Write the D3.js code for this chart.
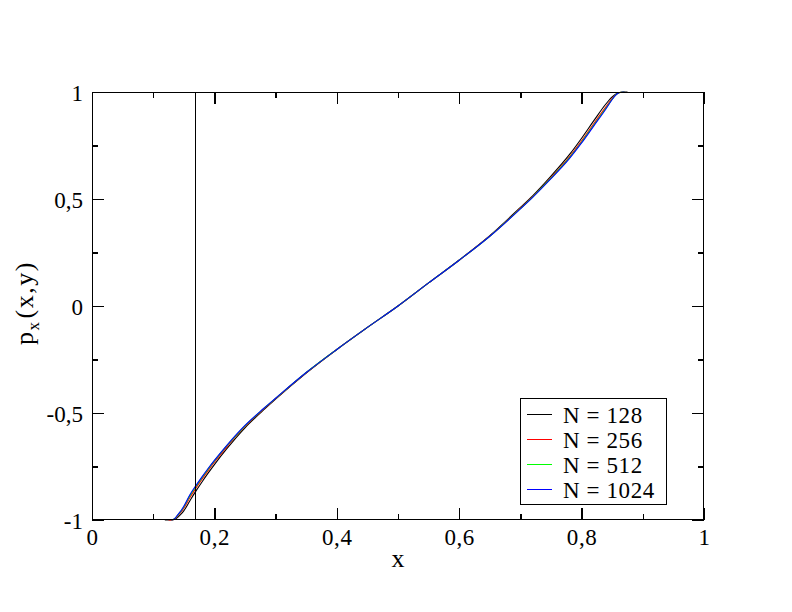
<!DOCTYPE html>
<html>
<head>
<meta charset="utf-8">
<script src="https://cdn.jsdelivr.net/npm/d3@7"></script>
<style>
html,body{margin:0;padding:0;background:#fff;}
svg{display:block;}
text{font-family:"Liberation Serif","DejaVu Serif",serif;fill:#000;}
</style>
</head>
<body>
<svg id="chart" width="792" height="612"></svg>
<script>
// ---- data ----
const xValues = [0.119, 0.125, 0.13, 0.135, 0.14, 0.145, 0.15, 0.16, 0.17, 0.18, 0.19, 0.20, 0.22, 0.25, 0.28, 0.30, 0.35, 0.40, 0.45, 0.50, 0.55, 0.60, 0.65, 0.70, 0.72, 0.75, 0.78, 0.80, 0.82, 0.84, 0.85, 0.855, 0.86, 0.865, 0.87, 0.875];
const seriesNames = ["N = 128", "N = 256", "N = 512", "N = 1024"];
const seriesColors = ["#000000", "#ff0000", "#00ff00", "#0000ff"];
const y128  = [-1.0, -1.0, -1.0, -0.997, -0.988, -0.974, -0.957, -0.910, -0.864, -0.821, -0.780, -0.741, -0.668, -0.569, -0.487, -0.435, -0.313, -0.203, -0.100, 0.0, 0.108, 0.215, 0.329, 0.461, 0.515, 0.607, 0.707, 0.784, 0.866, 0.945, 0.977, 0.989, 0.996, 0.999, 1.0, 1.0];
const y256  = [null, -1.0, -1.0, -0.995, -0.981, -0.965, -0.945, -0.895, -0.850, -0.808, -0.768, -0.730, -0.659, -0.563, -0.483, -0.433, -0.312, -0.203, -0.100, 0.0, 0.108, 0.214, 0.327, 0.457, 0.511, 0.600, 0.697, 0.772, 0.853, 0.932, 0.970, 0.985, 0.995, 0.999, 1.0, null];
const y512  = [null, null, -1.0, -0.994, -0.978, -0.960, -0.939, -0.886, -0.842, -0.801, -0.761, -0.724, -0.654, -0.560, -0.481, -0.432, -0.311, -0.203, -0.100, 0.0, 0.108, 0.214, 0.326, 0.455, 0.509, 0.597, 0.692, 0.765, 0.846, 0.925, 0.966, 0.984, 0.995, 0.999, 1.0, null];
const y1024 = [null, null, -1.0, -0.994, -0.976, -0.958, -0.936, -0.882, -0.838, -0.797, -0.758, -0.721, -0.652, -0.558, -0.480, -0.431, -0.311, -0.203, -0.100, 0.0, 0.108, 0.214, 0.326, 0.454, 0.508, 0.595, 0.689, 0.762, 0.842, 0.922, 0.965, 0.983, 0.995, 0.999, 1.0, null];
const seriesValues = [y128, y256, y512, y1024];
const markerX = 0.169;
const xTicks = [0, 0.2, 0.4, 0.6, 0.8, 1];
const xTickLabels = ["0", "0,2", "0,4", "0,6", "0,8", "1"];
const xMinorTicks = [0.1, 0.3, 0.5, 0.7, 0.9];
const yTicks = [-1, -0.5, 0, 0.5, 1];
const yTickLabels = ["-1", "-0,5", "0", "0,5", "1"];
const yMinorTicks = [-0.75, -0.25, 0.25, 0.75];

// ---- layout ----
const L = 92, R = 704, T = 92, B = 520;
const svg = d3.select("#chart");
const x = d3.scaleLinear().domain([0, 1]).range([L, R]);
const y = d3.scaleLinear().domain([-1, 1]).range([B, T]);

const fs = 23;

// curves
const line = d3.line()
  .defined(d => d[1] !== null)
  .x(d => x(d[0])).y(d => y(d[1]))
  .curve(d3.curveMonotoneX);
const plot = svg.append("g");
seriesValues.forEach((vals, i) => {
  plot.append("path")
    .datum(xValues.map((xv, j) => [xv, vals[j]]))
    .attr("d", line)
    .attr("fill", "none")
    .attr("stroke", seriesColors[i])
    .attr("stroke-width", 1.1);
});

// vertical marker line
svg.append("line")
  .attr("x1", Math.round(x(markerX)) + 0.5).attr("x2", Math.round(x(markerX)) + 0.5)
  .attr("y1", T).attr("y2", B)
  .attr("stroke", "#000").attr("stroke-width", 1).attr("shape-rendering", "crispEdges");

// frame
svg.append("rect").attr("x", L + 0.5).attr("y", T + 0.5).attr("width", R - L - 1).attr("height", B - T - 1)
  .attr("fill", "none").attr("stroke", "#000").attr("stroke-width", 1.3).attr("shape-rendering", "crispEdges");

// axes with inward ticks on all four sides
function ax(axisGen, tr) {
  const g = svg.append("g").attr("transform", tr).call(axisGen);
  g.select(".domain").remove();
  g.selectAll("line").attr("stroke", "#000").attr("stroke-width", 1.3).attr("shape-rendering", "crispEdges");
  return g;
}
const majorLen = 12, minorLen = 6;
// bottom
const gb = ax(d3.axisBottom(x).tickValues(xTicks).tickSize(-majorLen).tickPadding(0)
  .tickFormat((d, i) => xTickLabels[i]), `translate(0,${B})`);
gb.selectAll("text").attr("font-size", fs).attr("y", 25).attr("dy", null)
  .style("letter-spacing", "0.6px");
ax(d3.axisBottom(x).tickValues(xMinorTicks).tickSize(-minorLen).tickFormat(""), `translate(0,${B})`);
// top
ax(d3.axisTop(x).tickValues(xTicks).tickSize(-majorLen).tickFormat(""), `translate(0,${T})`);
ax(d3.axisTop(x).tickValues(xMinorTicks).tickSize(-minorLen).tickFormat(""), `translate(0,${T})`);
// left
const gl = ax(d3.axisLeft(y).tickValues(yTicks).tickSize(-majorLen).tickPadding(0)
  .tickFormat((d, i) => yTickLabels[i]), `translate(${L},0)`);
gl.selectAll("text").attr("font-size", fs).attr("x", -9).attr("dy", "0.36em");
ax(d3.axisLeft(y).tickValues(yMinorTicks).tickSize(-minorLen).tickFormat(""), `translate(${L},0)`);
// right
ax(d3.axisRight(y).tickValues(yTicks).tickSize(-majorLen).tickFormat(""), `translate(${R},0)`);
ax(d3.axisRight(y).tickValues(yMinorTicks).tickSize(-minorLen).tickFormat(""), `translate(${R},0)`);

// axis titles
svg.append("text").attr("x", (L + R) / 2).attr("y", 566.5)
  .attr("text-anchor", "middle").attr("font-size", 26).text("x");
const yl = svg.append("text").attr("transform", `translate(33,303) rotate(-90)`)
  .attr("text-anchor", "middle").attr("font-size", 26).style("letter-spacing", "1.5px");
yl.append("tspan").text("p");
yl.append("tspan").attr("font-size", 17).attr("dy", 6).text("x");
yl.append("tspan").attr("dy", -6).attr("dx", 2).text("(x,y)");

// legend
const lg = svg.append("g");
lg.append("rect").attr("x", 520.5).attr("y", 398.5).attr("width", 146).attr("height", 106)
  .attr("fill", "#fff").attr("stroke", "#000").attr("stroke-width", 1.3).attr("shape-rendering", "crispEdges");
seriesNames.forEach((name, i) => {
  const yy = 414 + i * 25;
  lg.append("line").attr("x1", 527).attr("x2", 552).attr("y1", yy + 0.5).attr("y2", yy + 0.5)
    .attr("stroke", seriesColors[i]).attr("stroke-width", 1).attr("shape-rendering", "crispEdges");
  lg.append("text").attr("x", 563).attr("y", yy + 9).attr("font-size", fs)
    .style("letter-spacing", "0.6px").text(name);
});
</script>
</body>
</html>
